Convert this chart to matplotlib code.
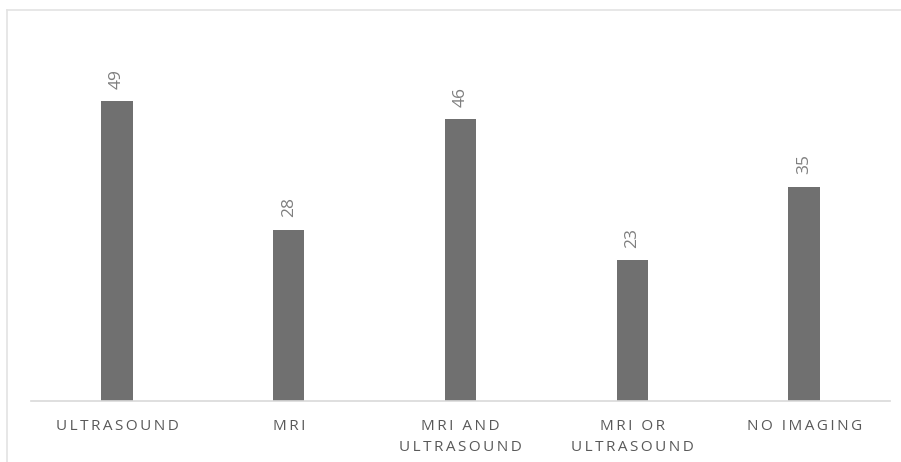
import matplotlib
matplotlib.use("Agg")
import matplotlib.pyplot as plt
from matplotlib.lines import Line2D

categories = ["ULTRASOUND", "MRI", "MRI AND\nULTRASOUND", "MRI OR\nULTRASOUND", "NO IMAGING"]
counts = [49, 28, 46, 23, 35]

BAR = "#707070"
TXT = "#595959"
GRID = "#d9d9d9"


def spaced(s, gap="\u2009"):
    # fake letter-spacing: thin space between every character of each line
    return "\n".join(gap.join(line) for line in s.split("\n"))


fig = plt.figure(figsize=(9.01, 4.62), dpi=100)
ax = fig.add_axes([31 / 901, 61 / 462, 859 / 901, 381 / 462])

x = range(len(categories))
ax.bar(x, counts, width=0.183, color=BAR)
ax.set_xlim(-0.5, len(categories) - 0.5)
ax.set_ylim(0, 381 / 6.12)

for xi, v in zip(x, counts):
    ax.annotate(str(v), (xi, v), xytext=(0, 9), textcoords="offset points",
                rotation=90, ha="center", va="bottom", fontsize=12.5,
                color="#7f7f7f", family=["Open Sans", "DejaVu Sans"])

ax.set_xticks(list(x))
ax.set_xticklabels([spaced(c) for c in categories], fontsize=11, color=TXT,
                   family=["Open Sans", "DejaVu Sans"], linespacing=1.55)
ax.tick_params(axis="x", length=0, pad=13)
ax.set_yticks([])
for side in ("top", "right", "left"):
    ax.spines[side].set_visible(False)
ax.spines["bottom"].set_color(GRID)
ax.spines["bottom"].set_linewidth(1.2)

# chart area border (left and top edges fall inside the image)
fig.add_artist(Line2D([7 / 901, 7 / 901], [0, 1 - 10 / 462], color="#e3e3e3", lw=1.2))
fig.add_artist(Line2D([7 / 901, 1], [1 - 10 / 462, 1 - 10 / 462], color="#e3e3e3", lw=1.2))

fig.savefig("out.png", dpi=100)
